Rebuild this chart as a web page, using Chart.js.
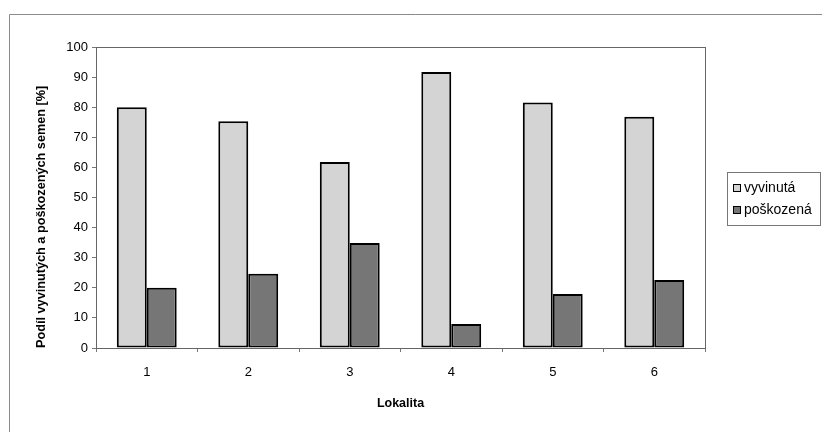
<!DOCTYPE html>
<html>
<head>
<meta charset="utf-8">
<script src="https://cdn.jsdelivr.net/npm/chart.js@4"></script>
<style>
  html, body { margin: 0; padding: 0; background: #fff; }
  #wrap { position: relative; width: 822px; height: 432px; }
</style>
</head>
<body>
<div id="wrap"><canvas id="chart" width="822" height="432"></canvas></div>
<script>
const categories = ["1", "2", "3", "4", "5", "6"];
const developed = [80, 75.3, 61.8, 91.7, 81.6, 76.8];
const damaged = [20, 24.7, 34.9, 8, 17.9, 22.6];
const yTicks = [0, 10, 20, 30, 40, 50, 60, 70, 80, 90, 100];

const FONT = "'Liberation Sans', Arial, sans-serif";

// outer frame (top + left lines), plot area box and the boxed legend on the right
const frame = {
  id: "frame",
  beforeDraw(chart) {
    const ctx = chart.ctx;
    ctx.save();
    ctx.strokeStyle = "#8a8a8a";
    ctx.lineWidth = 1;
    ctx.beginPath();
    ctx.moveTo(822, 14.5);
    ctx.lineTo(9.5, 14.5);
    ctx.lineTo(9.5, 432);
    ctx.stroke();
    ctx.restore();
  },
  afterDraw(chart) {
    const { ctx, chartArea: a } = chart;
    ctx.save();
    ctx.strokeStyle = "#666";
    ctx.lineWidth = 1;
    ctx.strokeRect(Math.round(a.left) + 0.5, Math.round(a.top) + 0.5,
      Math.round(a.right - a.left), Math.round(a.bottom - a.top));

    // legend
    const lx = 727, ly = 172, lw = 93, lh = 53;
    ctx.strokeStyle = "#777";
    ctx.strokeRect(lx + 0.5, ly + 0.5, lw, lh);
    ctx.font = "14px " + FONT;
    ctx.textBaseline = "middle";
    chart.data.datasets.forEach((ds, i) => {
      const cy = ly + 16 + i * 22;
      ctx.fillStyle = ds.backgroundColor;
      ctx.fillRect(lx + 6, cy - 4, 8, 8);
      ctx.strokeStyle = "#000";
      ctx.lineWidth = 1;
      ctx.strokeRect(lx + 6.5, cy - 3.5, 7, 7);
      ctx.fillStyle = "#000";
      ctx.fillText(ds.label, lx + 17, cy);
    });
    ctx.restore();
  }
};

new Chart(document.getElementById("chart"), {
  type: "bar",
  data: {
    labels: categories,
    datasets: [
      {
        label: "vyvinutá",
        data: developed,
        backgroundColor: "#d4d4d4",
        borderColor: "#000",
        borderWidth: 2,
        borderSkipped: false,
        categoryPercentage: 0.59,
        barPercentage: 1.0
      },
      {
        label: "poškozená",
        data: damaged,
        backgroundColor: "#767676",
        borderColor: "#000",
        borderWidth: 2,
        borderSkipped: false,
        categoryPercentage: 0.59,
        barPercentage: 1.0
      }
    ]
  },
  options: {
    responsive: false,
    animation: false,
    devicePixelRatio: 1,
    layout: { padding: { top: 47, left: 30, right: 117, bottom: 14 } },
    plugins: {
      tooltip: { enabled: false },
      legend: { display: false }
    },
    scales: {
      x: {
        grid: { drawOnChartArea: false, tickLength: 4, color: "#777", offset: true },
        border: { color: "#777" },
        ticks: { font: { family: FONT, size: 13 }, color: "#000", padding: 13 },
        title: {
          display: true,
          text: "Lokalita",
          font: { family: FONT, size: 12.5, weight: "bold" },
          color: "#000",
          padding: { top: 12, bottom: 7 }
        },
        afterFit(s) { s.height = 70; }
      },
      y: {
        min: 0,
        max: 100,
        afterBuildTicks(s) { s.ticks = yTicks.map(v => ({ value: v })); },
        grid: { drawOnChartArea: false, tickLength: 4, color: "#777" },
        border: { color: "#777" },
        ticks: { font: { family: FONT, size: 13 }, color: "#000", padding: 4 },
        title: {
          display: true,
          align: "start",
          text: "Podíl vyvinutých a poškozených semen [%]",
          font: { family: FONT, size: 12.7, weight: "bold" },
          color: "#000",
          padding: { top: 4, bottom: 10 }
        },
        afterFit(s) { s.width = 66; }
      }
    }
  },
  plugins: [frame]
});
</script>
</body>
</html>
